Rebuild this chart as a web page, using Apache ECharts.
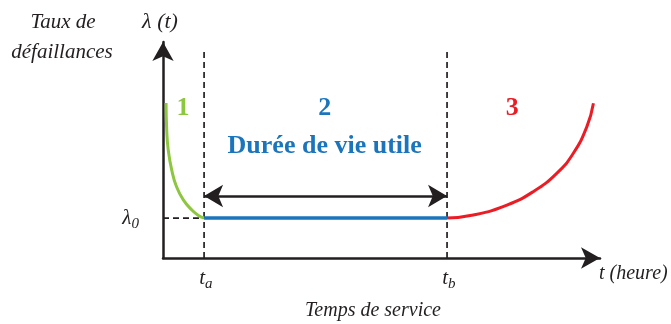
<!DOCTYPE html>
<html>
<head>
<meta charset="utf-8">
<script src="https://cdn.jsdelivr.net/npm/echarts@6/dist/echarts.min.js"></script>
<style>
  html, body { margin: 0; padding: 0; background: #fff; }
  #chart { width: 671px; height: 324px; }
</style>
</head>
<body>
<div id="chart"></div>
<script>
// phase boundaries and failure-rate level (arbitrary units, 0..100)
const tA = 9.4;
const tB = 65;
const lambda0 = 18.5;

// phase 1: early failures (decreasing)
const infantX = [0.7, 0.85, 1.2, 2.0, 3.1, 4.65, 6.6, 8.2, 9.4];
const infantY = [71.8, 59.3, 50.0, 40.7, 33.0, 26.9, 22.2, 19.6, 18.5];

// phase 3: wear-out (increasing)
const wearX = [65, 71.0, 78.7, 84.7, 90.1, 93.9, 97.0, 98.5];
const wearY = [18.5, 19.9, 24.5, 30.7, 39.2, 48.5, 60.8, 71.6];

const arrowY = 28.7;
const dashTop = 97;

const GREEN = "#8dc63f";
const BLUE = "#1b75bc";
const RED = "#ed1c24";
const INK = "#231f20";
const SERIF = "Liberation Serif, DejaVu Serif, serif";

const zip = (xs, ys) => xs.map((x, i) => [x, ys[i]]);

const chart = echarts.init(document.getElementById("chart"), null, { renderer: "canvas" });

const dashed = { color: INK, width: 1.7, type: [6, 4] };
const axisLine = {
  lineStyle: { color: INK, width: 2.5 },
  symbol: ["none", "arrow"], symbolSize: [16, 19], symbolOffset: [0, 0]
};
const italic = size => ({ fontFamily: SERIF, fontStyle: "italic", fontSize: size, fill: INK });

chart.setOption({
  animation: false,
  grid: { left: 163, top: 42, width: 437, height: 216 },
  xAxis: {
    type: "value", min: 0, max: 100,
    splitLine: { show: false }, axisTick: { show: false }, axisLabel: { show: false },
    axisLine
  },
  yAxis: {
    type: "value", min: 0, max: 100,
    splitLine: { show: false }, axisTick: { show: false }, axisLabel: { show: false },
    axisLine
  },
  series: [
    { type: "line", data: [[0, lambda0], [tA, lambda0]], symbol: "none", lineStyle: dashed, z: 1 },
    { type: "line", data: [[tA, 0], [tA, dashTop]], symbol: "none", lineStyle: dashed, z: 1 },
    { type: "line", data: [[tB, 0], [tB, dashTop]], symbol: "none", lineStyle: dashed, z: 1 },
    { type: "line", data: zip(infantX, infantY), smooth: 0.5, symbol: "none", lineStyle: { color: GREEN, width: 3 }, z: 3 },
    { type: "line", data: [[tA, lambda0], [tB, lambda0]], symbol: "none", lineStyle: { color: BLUE, width: 3.5 }, z: 3 },
    { type: "line", data: zip(wearX, wearY), smooth: 0.5, symbol: "none", lineStyle: { color: RED, width: 3 }, z: 3 },
    {
      type: "line", data: [], symbol: "none",
      markLine: {
        silent: true, symbol: ["arrow", "arrow"], symbolSize: [17, 19],
        label: { show: false },
        lineStyle: { color: INK, width: 2.5, type: "solid" },
        data: [[{ coord: [tA, arrowY] }, { coord: [tB, arrowY] }]]
      }
    },
    {
      type: "scatter", symbolSize: 0, clip: false, z: 5,
      itemStyle: { opacity: 1 },
      label: {
        show: true, position: "inside",
        formatter: p => p.data[2],
        rich: {
          it: { fontFamily: SERIF, fontStyle: "italic", fontSize: 21, color: INK },
          sub: { fontFamily: SERIF, fontStyle: "italic", fontSize: 15, color: INK, padding: [12, 0, 0, 0] },
          g: { fontFamily: SERIF, fontWeight: "bold", fontSize: 26, color: GREEN },
          b: { fontFamily: SERIF, fontWeight: "bold", fontSize: 26, color: BLUE },
          r: { fontFamily: SERIF, fontWeight: "bold", fontSize: 26, color: RED }
        }
      },
      data: [
        [-7.4, lambda0, "{it|λ}{sub|0}"],
        [tA + 0.4, -9.3, "{it|t}{sub|a}"],
        [tB + 0.4, -9.3, "{it|t}{sub|b}"],
        [4.6, 69.4, "{g|1}"],
        [37, 69.4, "{b|2}"],
        [37, 51.9, "{b|Durée de vie utile}"],
        [79.9, 69.4, "{r|3}"]
      ]
    }
  ],
  graphic: [
    { type: "text", style: Object.assign({ text: "Taux de", x: 63, y: 22, align: "center", verticalAlign: "middle" }, italic(21)) },
    { type: "text", style: Object.assign({ text: "défaillances", x: 62, y: 52, align: "center", verticalAlign: "middle" }, italic(21)) },
    { type: "text", style: Object.assign({ text: "λ (t)", x: 160, y: 22, align: "center", verticalAlign: "middle" }, italic(22)) },
    { type: "text", style: Object.assign({ text: "t (heure)", x: 599, y: 274, align: "left", verticalAlign: "middle" }, italic(20)) },
    { type: "text", style: Object.assign({ text: "Temps de service", x: 373, y: 311, align: "center", verticalAlign: "middle" }, italic(20)) }
  ]
});
</script>
</body>
</html>
